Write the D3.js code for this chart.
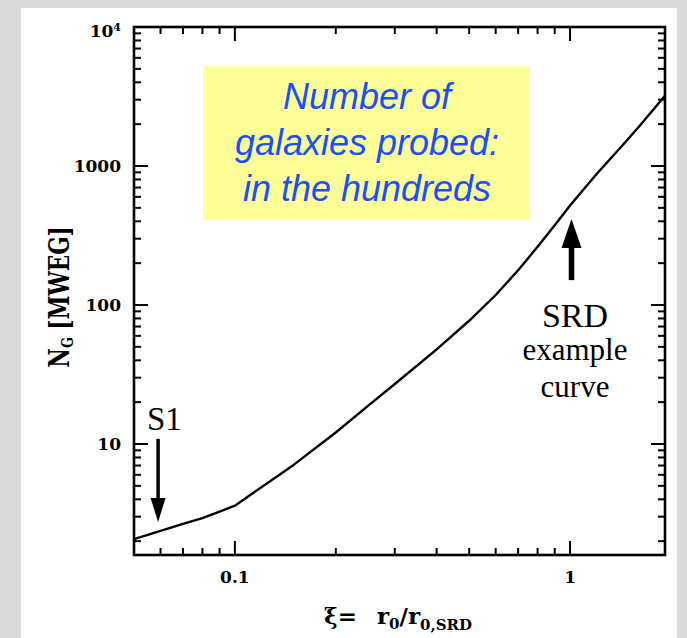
<!DOCTYPE html>
<html>
<head>
<meta charset="utf-8">
<script src="https://cdn.jsdelivr.net/npm/d3@7/dist/d3.min.js"></script>
<style>
  html, body { margin: 0; padding: 0; background: #dadada; }
  svg { display: block; }
</style>
</head>
<body>
<svg id="chart" width="687" height="638"></svg>
<script>
// Number of galaxies probed (in MWEG) versus correlation length ratio xi = r0 / r0,SRD
const xiValues = [0.05, 0.06, 0.07, 0.08, 0.09, 0.1, 0.15, 0.2, 0.25, 0.3, 0.4, 0.5, 0.6, 0.7, 0.8, 0.9, 1.0, 1.2, 1.4, 1.6, 1.92];
const ngValues = [2.07, 2.37, 2.66, 2.93, 3.26, 3.6, 7.1, 12.1, 18.9, 27, 48, 77, 118, 178, 262, 375, 520, 875, 1320, 1900, 3200];

const xMajorTicks = [0.1, 1];
const xTickLabels = ["0.1", "1"];
const yMajorTicks = [10, 100, 1000, 10000];
const yTickLabels = ["10", "100", "1000", "10^4"];

const boxLines = ["Number of", "galaxies probed:", "in the hundreds"];
const srdLines = ["SRD", "example", "curve"];

const svg = d3.select("#chart");

// white page panel
svg.append("rect").attr("x", 21).attr("y", 8).attr("width", 656).attr("height", 640).attr("fill", "#ffffff");

const plotL = 134, plotR = 665, plotT = 27, plotB = 555;
const x = d3.scaleLog().domain([0.05, 1.92]).range([plotL, plotR]);
const y = d3.scaleLog().domain([1.59, 10000]).range([plotB, plotT]);

// minor tick values: 2..9 times each decade inside the domain
function minorTicks(scale) {
  const [a, b] = scale.domain();
  const out = [];
  for (let e = Math.floor(Math.log10(a)); e <= Math.ceil(Math.log10(b)); e++) {
    for (let m = 2; m <= 9; m++) {
      const v = m * Math.pow(10, e);
      if (v > a * 1.001 && v < b * 0.999) out.push(v);
    }
  }
  return out;
}

const tickColor = "#000";
const g = svg.append("g");

// inward ticks on all four sides
function drawTicks(values, len) {
  values.forEach(v => {
    const px = x(v);
    if (px > plotL + 1 && px < plotR - 1) {
      g.append("line").attr("x1", px).attr("x2", px).attr("y1", plotB).attr("y2", plotB - len).attr("stroke", tickColor).attr("stroke-width", 2);
      g.append("line").attr("x1", px).attr("x2", px).attr("y1", plotT).attr("y2", plotT + len).attr("stroke", tickColor).attr("stroke-width", 2);
    }
  });
}
function drawYTicks(values, len) {
  values.forEach(v => {
    const py = y(v);
    if (py < plotB - 1 && py > plotT + 1) {
      g.append("line").attr("x1", plotL).attr("x2", plotL + len).attr("y1", py).attr("y2", py).attr("stroke", tickColor).attr("stroke-width", 2);
      g.append("line").attr("x1", plotR).attr("x2", plotR - len).attr("y1", py).attr("y2", py).attr("stroke", tickColor).attr("stroke-width", 2);
    }
  });
}
drawTicks(minorTicks(x), 7);
drawTicks(xMajorTicks, 14);
drawYTicks(minorTicks(y), 7);
drawYTicks(yMajorTicks, 14);

// frame
g.append("rect").attr("x", plotL).attr("y", plotT).attr("width", plotR - plotL).attr("height", plotB - plotT)
  .attr("fill", "none").attr("stroke", "#000").attr("stroke-width", 2.6);

// tick labels
const labelFont = "'DejaVu Serif', serif";
xMajorTicks.forEach((v, i) => {
  svg.append("text").attr("x", x(v)).attr("y", 583).attr("text-anchor", "middle")
    .attr("font-family", labelFont).attr("font-weight", "bold").attr("font-size", 17)
    .text(xTickLabels[i]);
});
yMajorTicks.forEach((v, i) => {
  const t = svg.append("text").attr("x", 121).attr("text-anchor", "end")
    .attr("font-family", labelFont).attr("font-weight", "bold").attr("font-size", 17);
  if (yTickLabels[i].includes("^")) {
    const [base, exp] = yTickLabels[i].split("^");
    t.attr("y", y(v) + 10);
    t.append("tspan").text(base);
    t.append("tspan").attr("font-size", 11).attr("dy", -6).text(exp);
  } else {
    t.attr("y", y(v) + 6).text(yTickLabels[i]);
  }
});

// curve
const line = d3.line().x(d => x(d[0])).y(d => y(d[1]));
svg.append("path").datum(xiValues.map((v, i) => [v, ngValues[i]]))
  .attr("d", line).attr("fill", "none").attr("stroke", "#000").attr("stroke-width", 2.4)
  .attr("stroke-linejoin", "round");

// axis titles
const xt = svg.append("text").attr("x", 398).attr("y", 624).attr("text-anchor", "middle")
  .attr("font-family", labelFont).attr("font-weight", "bold").attr("font-size", 23);
xt.append("tspan").text("ξ=");
xt.append("tspan").attr("dx", 20).text("r");
xt.append("tspan").attr("font-size", 15).attr("dy", 5).text("0");
xt.append("tspan").attr("dy", -5).text("/r");
xt.append("tspan").attr("font-size", 15).attr("dy", 6).text("0,SRD");

const yt = svg.append("g").attr("transform", "translate(69,297) rotate(-90) scale(0.8,1)")
  .append("text").attr("text-anchor", "middle")
  .attr("font-family", labelFont).attr("font-weight", "bold").attr("font-size", 27);
yt.append("tspan").text("N");
yt.append("tspan").attr("font-size", 16).attr("dy", 4).text("G");
yt.append("tspan").attr("dy", -4).text(" [MWEG]");

// highlight box
svg.append("rect").attr("x", 203).attr("y", 66).attr("width", 327).attr("height", 154).attr("fill", "#ffff99");
const boxBase = [109, 155, 201];
boxLines.forEach((s, i) => {
  svg.append("text").attr("x", 367).attr("y", boxBase[i]).attr("text-anchor", "middle")
    .attr("font-family", "'Liberation Sans', Arial, sans-serif").attr("font-style", "italic")
    .attr("font-size", 36).attr("fill", "#1b4ffa").text(s);
});

// annotation arrows
function arrow(xv, yFrom, yTo, shaftW, headW, headL) {
  const px = x(xv), p0 = y(yFrom), p1 = y(yTo);
  const dir = p1 > p0 ? 1 : -1;
  svg.append("line").attr("x1", px).attr("x2", px).attr("y1", p0).attr("y2", p1 - dir * headL)
    .attr("stroke", "#000").attr("stroke-width", shaftW);
  svg.append("path").attr("d", `M${px},${p1} L${px - headW / 2},${p1 - dir * headL} L${px + headW / 2},${p1 - dir * headL} Z`)
    .attr("fill", "#000");
}
arrow(0.059, 10.9, 2.75, 3.5, 15, 24);
arrow(1.01, 151, 416, 5.5, 20, 29);

const serif = "'Liberation Serif', 'Times New Roman', serif";
svg.append("text").attr("x", 147).attr("y", 430).attr("font-family", serif).attr("font-size", 33).text("S1");
const srdBase = [327, 360, 397];
const srdSize = [34, 31, 31];
srdLines.forEach((s, i) => {
  svg.append("text").attr("x", 575).attr("y", srdBase[i]).attr("text-anchor", "middle")
    .attr("font-family", serif).attr("font-size", srdSize[i]).text(s);
});
</script>
</body>
</html>
